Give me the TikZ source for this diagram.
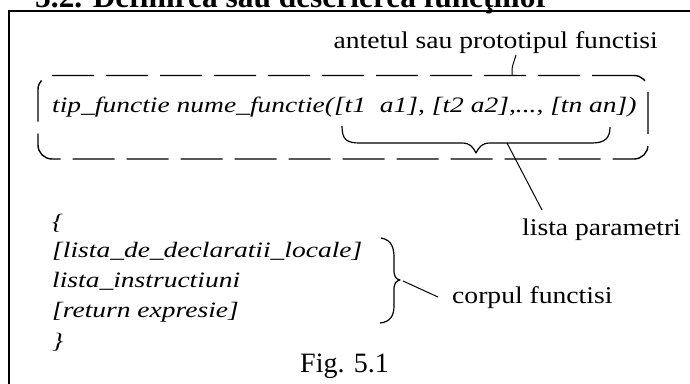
\documentclass[tikz,border=0pt]{standalone}
\usepackage{fontspec}
\setmainfont{Liberation Serif}
\newfontfamily\lblfont[FakeStretch=1.15]{Liberation Serif}
\newfontfamily\codefont[FakeStretch=1.25]{Liberation Serif}
\tikzset{
  lbl/.style={inner sep=0pt, anchor=base west, font=\lblfont\fontsize{24}{28}\selectfont},
  code/.style={inner sep=0pt, anchor=base west, font=\codefont\itshape\fontsize{22}{26}\selectfont},
  leader/.style={line width=1pt},
  bracepath/.style={line width=1.2pt, line join=round},
  dashbox/.style={draw, line width=1.4pt, dash pattern=on 42pt off 12pt, rounded corners=14pt, inner sep=0pt},
}
\begin{document}
\begin{tikzpicture}[x=1pt,y=-1pt]
\useasboundingbox (0,0) rectangle (690,383);
\clip (0,0) rectangle (690,383);
% heading (cut off at the top, as in the reference)
\node[inner sep=0pt, anchor=base west, font=\fontsize{31.4}{34}\selectfont\bfseries] (head) at (35,7.5) {5.2. Definirea sau descrierea funcţiilor};
% frame
\draw[line width=2pt] (9,400) -- (9,11) -- (700,11);
% header label
\node[lbl, anchor=base east] (antet) at (658,48) {antetul sau prototipul functisi};
\coordinate (ticktop) at (516,55);
\coordinate (tickbot) at (512,75.5);
\draw[leader] (ticktop) .. controls (514,62) and (512,66) .. (512,70) -- (tickbot);
% dashed box
\node[dashbox, minimum width=610pt, minimum height=83.5pt] (box) at (343,117.25) {};
\node[code] (sig) at (52,112) {tip\_functie nume\_functie([t1\ \ a1], [t2 a2],..., [tn an])};
% brace under parameters
\coordinate (pl) at (342,126);
\coordinate (pr) at (610,127);
\coordinate (ptip) at (476,153);
\draw[bracepath] (pl) .. controls (342,140) and (347,143) .. (360,143) -- (462,143)
  .. controls (470,143) and (473,147) .. (ptip) .. controls (479,147) and (482,143) .. (490,143)
  -- (592,143) .. controls (605,143) and (610,138) .. (pr);
\coordinate (plead) at (507,143);
\node[lbl] (param) at (522,235) {lista parametri};
\coordinate (pend) at (542,210);
\draw[leader] (plead) -- (pend);
% body
\node[code] (ob) at (52,229) {\{};
\node[code] (decl) at (52,257) {[lista\_de\_declaratii\_locale]};
\node[code] (instr) at (52,287) {lista\_instructiuni};
\node[code] (ret) at (52,317) {[return expresie]};
\node[code] (cb) at (52,348) {\}};
% body brace
\coordinate (bt) at (381,238);
\coordinate (bb) at (380,323);
\coordinate (btip) at (400,280);
\draw[bracepath] (bt) .. controls (392,240) and (394,248) .. (394,258) -- (394,270)
  .. controls (394,277) and (396,279) .. (btip) .. controls (396,281) and (394,283) .. (394,290)
  -- (394,306) .. controls (394,316) and (390,322) .. (bb);
\coordinate (bstart) at (403,281);
\node[lbl] (corp) at (452,303) {corpul functisi};
\coordinate (bend) at (438,297);
\draw[leader] (bstart) -- (bend);
% caption
\node[inner sep=0pt, anchor=base west, font=\fontsize{28}{32}\selectfont] (fig) at (300,372) {Fig. 5.1};
\end{tikzpicture}
\end{document}
